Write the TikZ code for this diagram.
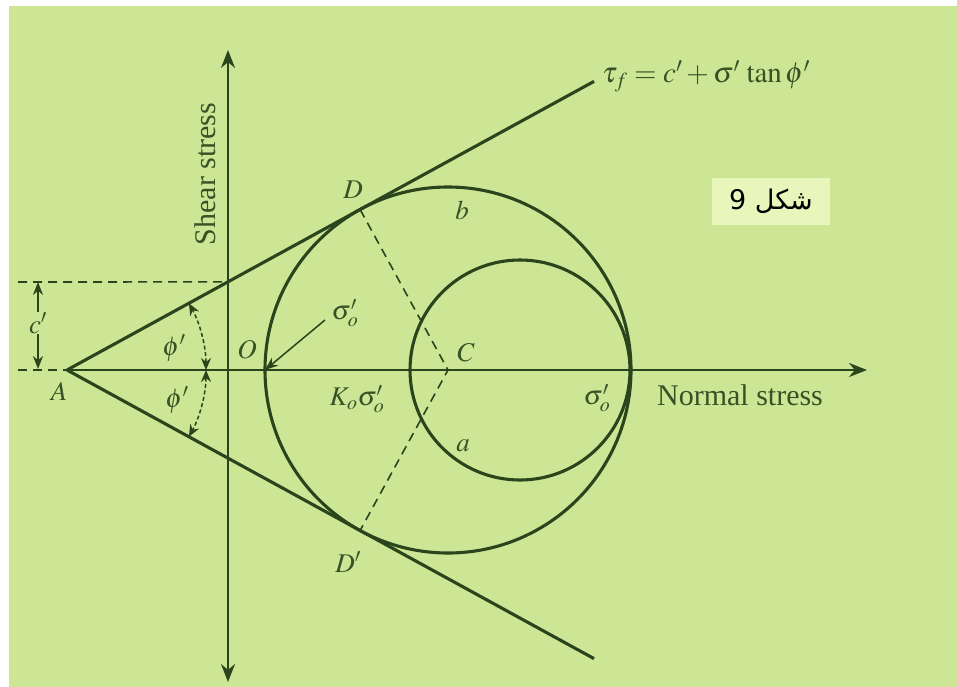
\documentclass[tikz,border=0pt]{standalone}
\usepackage{mathptmx}
\usepackage{fontspec}
\setmainfont{Liberation Serif}
\newfontfamily\arabicfont[Script=Arabic]{DejaVu Sans}
\TeXXeTstate=1
\usetikzlibrary{arrows.meta,calc}
\definecolor{bg}{RGB}{205,230,150}
\definecolor{ink}{RGB}{42,68,28}
\definecolor{txt}{RGB}{55,82,36}
\definecolor{boxbg}{RGB}{232,246,188}
\tikzset{
  heavy/.style={draw=ink,line width=3.1pt},
  axis/.style={draw=ink,line width=2pt,-{Stealth[length=18pt,width=14pt]}},
  dashline/.style={draw=ink,line width=1.6pt,dash pattern=on 9pt off 6pt},
  small arrow/.style={draw=ink,line width=1.5pt,-{Stealth[length=13pt,width=10pt]}},
  arcarrow/.style={draw=ink,line width=1.5pt,dash pattern=on 4pt off 2.5pt,{Stealth[length=12pt,width=10pt]}-{Stealth[length=12pt,width=10pt]}},
  lbl/.style={text=txt,inner sep=0pt,font=\fontsize{27}{31}\selectfont},
  axlbl/.style={text=txt,inner sep=0pt,font=\fontsize{30}{34}\selectfont},
}
\begin{document}
\begin{tikzpicture}[x=1pt,y=-1pt]
\useasboundingbox (0,0) rectangle (957,687);
\fill[white] (0,0) rectangle (957,687);
\fill[bg] (9,6) rectangle (957,687);

% key points
\coordinate (A) at (67,370);
\coordinate (C) at (448,370);
\coordinate (Cs) at (520,370);
\coordinate (O) at (265,370);
\coordinate (D) at (360.1,209.5);
\coordinate (Dp) at (360.1,530.5);
\coordinate (Tu) at (594,81.4);
\coordinate (Tl) at (594,658.6);
\coordinate (P) at (228,281.9);
\coordinate (xl) at (18,370);
\coordinate (xr) at (867,370);
\coordinate (yt) at (228,50);
\coordinate (yb) at (228,682);
\coordinate (cl) at (18,282);

% axes
\draw[axis] (228,370) -- (yt);
\draw[axis] (228,370) -- (yb);
\draw[axis] (A) -- (xr);
\draw[dashline] (xl) -- (A);
\draw[dashline] (cl) -- (P);

% circles
\draw[heavy] (C) circle[radius=183];
\draw[heavy] (Cs) circle[radius=110];

% tangent lines
\draw[heavy] (A) -- (Tu);
\draw[heavy] (A) -- (Tl);

% dashed radii
\draw[dashline] (D) -- (C) -- (Dp);

% phi' arcs
\draw[arcarrow] ($(A)+(0:139)$) arc[start angle=0,end angle=-28.7,radius=139];
\draw[arcarrow] ($(A)+(0:139)$) arc[start angle=0,end angle=28.7,radius=139];

% c' dimension
\node[lbl] (cp) at (38,323) {$c'$};
\draw[small arrow] (cp.north) -- (38,282);
\draw[small arrow] (cp.south) -- (38,369);

% sigma'_o arrow to O
\node[lbl] (so1) at (345,313) {$\sigma'_o$};
\draw[small arrow] (325,320) -- (O);

% labels
\node[lbl] (lA) at (59,391) {$A$};
\node[lbl] (lphi1) at (174,348) {$\phi'$};
\node[lbl] (lphi2) at (177,400) {$\phi'$};
\node[lbl] (lO) at (247,350) {$O$};
\node[lbl] (lD) at (353,190) {$D$};
\node[lbl] (lb) at (462,210) {$b$};
\node[lbl] (lC) at (466,353) {$C$};
\node[lbl] (lK) at (357,399) {$K_o\sigma'_o$};
\node[lbl] (lso2) at (597,398) {$\sigma'_o$};
\node[lbl] (la) at (463,446) {$a$};
\node[lbl] (lDp) at (348,562) {$D'$};
\node[axlbl] (ns) at (740,395) {Normal stress};
\node[axlbl,rotate=90] (ss) at (205,174) {Shear stress};
\node[lbl,anchor=west,font=\fontsize{29}{33}\selectfont] (eq) at (602,76) {$\tau_f = c' + \sigma'\,\tan\phi'$};

% figure tag
\node[fill=boxbg,minimum width=118pt,minimum height=47pt,inner sep=0pt] (tag) at (771,201.5) {};
\node[text=black,inner sep=0pt,font=\arabicfont\fontsize{27}{32}\selectfont] at (tag.center) {\beginR شکل 9\endR};
\end{tikzpicture}
\end{document}
